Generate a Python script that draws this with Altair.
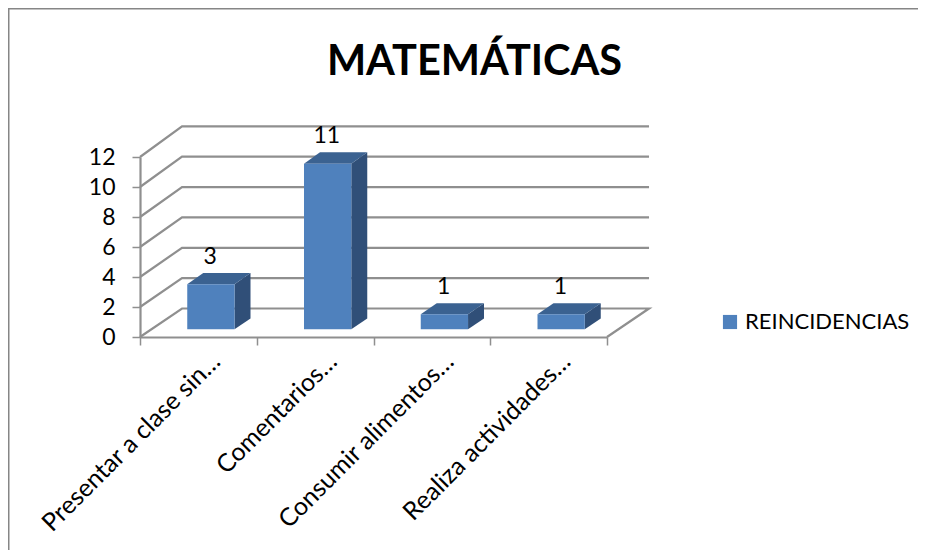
import altair as alt
import pandas as pd

# ---- data ----
categories = ["Presentar a clase sin…", "Comentarios…", "Consumir alimentos…", "Realiza actividades…"]
values = [3, 11, 1, 1]
series = ["REINCIDENCIAS"]
y_ticks = [0, 2, 4, 6, 8, 10, 12]
x_ticks = [0, 1, 2, 3, 4]
chart_title = "MATEMÁTICAS"

# ---- oblique projection of the Excel-style 3D box (depth d in 0..1) ----
DX = 0.36       # horizontal shift of the back wall, in category units
DY = 1.90       # vertical shift of the back wall, in value units
STRETCH = 0.012 # slight perspective of the back wall
D0, D1 = 0.27, 0.65   # depth span of the bars
BAR_W = 0.405
BAR_C = 0.51


def px(x, d):
    return x + DX * d


def py(v, d):
    return v * (1 + STRETCH * d) + DY * d


# wall and floor lines
wall_rows = []
for v in y_ticks:
    path = [(0, v, 0), (0, v, 1), (4, v, 1)]
    if v == 0:
        path.append((4, v, 0))
    for k, (x, val, d) in enumerate(path):
        wall_rows.append({"line": v, "k": k, "x": px(x, d), "y": py(val, d)})
walls = pd.DataFrame(wall_rows)

# bar faces
front_rows, side_rows, top_rows, label_rows = [], [], [], []
for i, (cat, v) in enumerate(zip(categories, values)):
    l, r = i + BAR_C - BAR_W / 2, i + BAR_C + BAR_W / 2
    front_rows.append({"x": px(l, D0), "x2": px(r, D0), "y": py(0, D0), "y2": py(v, D0), "series": series[0]})
    for d in (D0, D1):
        side_rows.append({"bar": i, "x": px(r, d), "y": py(0, d), "y2": py(v, d)})
    top_rows += [
        {"bar": i, "x": px(l, D0), "y": py(v, D0), "y2": py(v, D0)},
        {"bar": i, "x": px(l, D1), "y": py(v, D0), "y2": py(v, D1)},
        {"bar": i, "x": px(r, D0), "y": py(v, D0), "y2": py(v, D1)},
        {"bar": i, "x": px(r, D1), "y": py(v, D1), "y2": py(v, D1)},
    ]
    label_rows.append({"x": px(i + BAR_C, D0), "y": py(v, D0), "text": str(v)})
front, side, top, vlabels = map(pd.DataFrame, (front_rows, side_rows, top_rows, label_rows))
cat_df = pd.DataFrame({"x": [i + 0.5 for i in range(len(categories))], "y": [0] * len(categories), "text": categories})

GREY = "#8f8f8f"
FONT = "Lato"
xs = alt.Scale(domain=[0, 4], nice=False, zero=False)
ys = alt.Scale(domain=[0, 12], nice=False, zero=False)
x_axis = alt.Axis(values=x_ticks, labels=False, grid=False, domainColor=GREY, domainWidth=2.2,
                  tickColor=GREY, tickWidth=1.5, tickSize=8)
y_axis = alt.Axis(values=y_ticks, grid=False, domainColor=GREY, domainWidth=2.2, tickColor=GREY, tickWidth=1.5,
                  tickSize=8, labelFont=FONT, labelFontSize=23, labelColor="black", labelPadding=17)
X = alt.X("x:Q", scale=xs, axis=x_axis, title=None)
Y = alt.Y("y:Q", scale=ys, axis=y_axis, title=None)

lines = alt.Chart(walls).mark_line(color=GREY, strokeWidth=2.2, clip=False).encode(
    x=X, y=Y, detail="line:N", order="k:Q")
side_l = alt.Chart(side).mark_area(color="#304f78", clip=False).encode(x=X, y=Y, y2="y2:Q", detail="bar:N")
top_l = alt.Chart(top).mark_area(color="#3b6291", clip=False).encode(x=X, y=Y, y2="y2:Q", detail="bar:N")
front_l = alt.Chart(front).mark_rect(clip=False).encode(
    x=X, x2="x2:Q", y=Y, y2="y2:Q",
    color=alt.Color("series:N", scale=alt.Scale(domain=series, range=["#4f81bd"]), legend=alt.Legend(
        title=None, orient="none", legendX=579, legendY=154, padding=0, symbolType="square", symbolSize=200,
        symbolStrokeWidth=0, labelFont=FONT, labelFontSize=22, labelColor="black", labelOffset=4,
        labelLimit=400)),
)
val_l = alt.Chart(vlabels).mark_text(font=FONT, fontSize=23, color="black", dy=-27.5, dx=-0.8, baseline="middle").encode(
    x=X, y=Y, text="text:N")
cat_l = alt.Chart(cat_df).mark_text(font=FONT, fontSize=25, color="black", angle=315, align="right",
                                    baseline="middle", dx=-2, dy=27).encode(x=X, y=Y, text="text:N")
title_df = pd.DataFrame({"text": [chart_title]})
title_l = alt.Chart(title_df).mark_text(font=FONT, fontSize=41.5, fontWeight="bold", color="black",
                                        align="center", baseline="alphabetic").encode(
    x=alt.value(334.5), y=alt.value(-82), text="text:N")
border_top = alt.Chart(pd.DataFrame({"a": [0]})).mark_rule(color="#868686", strokeWidth=2).encode(
    x=alt.value(-132), x2=alt.value(778), y=alt.value(-148.5))
border_left = alt.Chart(pd.DataFrame({"a": [0]})).mark_rule(color="#868686", strokeWidth=2).encode(
    x=alt.value(-131.5), y=alt.value(-149), y2=alt.value(393))

chart = alt.layer(border_top, border_left, lines, side_l, top_l, front_l, val_l, cat_l, title_l).properties(
    width=467, height=180, background="white",
    padding={"left": 132, "top": 149, "right": 311, "bottom": 213},
    autosize=alt.AutoSizeParams(type="none"),
).configure_view(stroke=None)

chart.save("out.html", embed_options={"renderer": "svg", "actions": False})
